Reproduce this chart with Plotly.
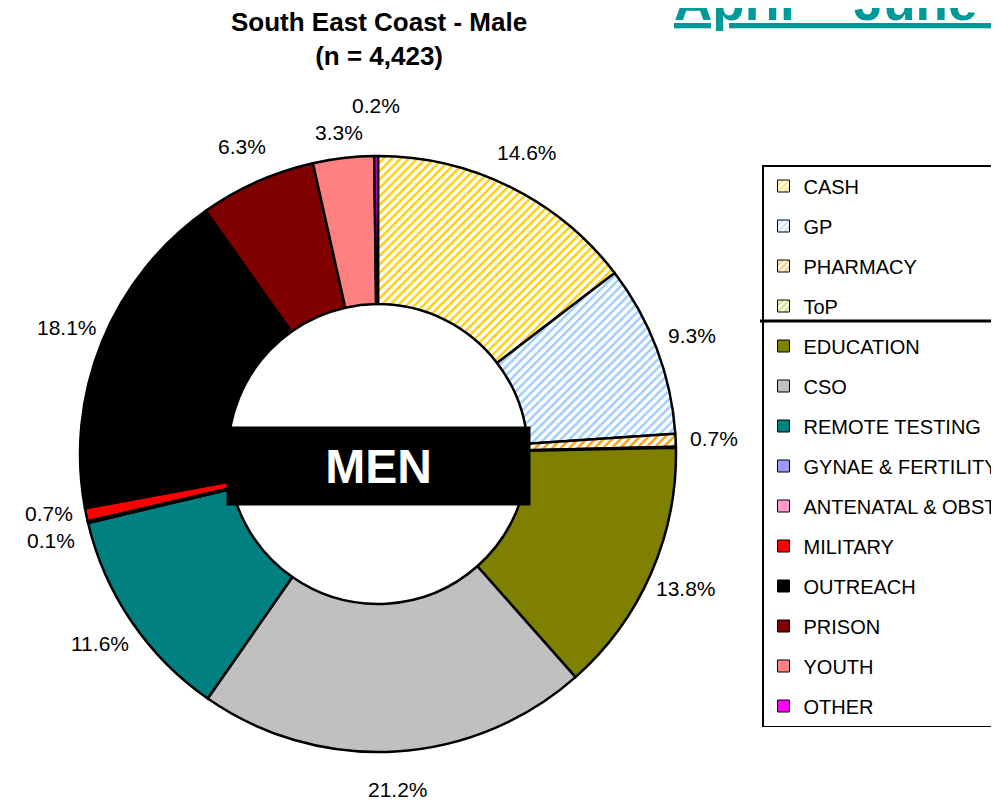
import math
import plotly.graph_objects as go

categories = ["CASH", "GP", "PHARMACY", "ToP", "EDUCATION", "CSO", "REMOTE TESTING",
              "GYNAE & FERTILITY", "ANTENATAL & OBSTETRICS", "MILITARY", "OUTREACH",
              "PRISON", "YOUTH", "OTHER"]
values = [14.6, 9.3, 0.7, 0.05, 13.8, 21.2, 11.6, 0.1, 0.0, 0.7, 18.1, 6.3, 3.3, 0.2]
value_labels = ["14.6%", "9.3%", "0.7%", "", "13.8%", "21.2%", "11.6%", "0.1%", "",
                "0.7%", "18.1%", "6.3%", "3.3%", "0.2%"]
colors = ["#FFCC00", "#99CCFF", "#FF9900", "#99CC00", "#808000", "#C0C0C0", "#008080",
          "#9999FF", "#FF99CC", "#FF0000", "#000000", "#800000", "#FF8080", "#FF00FF"]
hatched = [True, True, True, True, False, False, False, False, False, False, False,
           False, False, False]

W, H = 999, 804
OFF = 8  # page body margin


def fx(px):
    return (px - OFF) / W


def fy(py):
    return 1 - (py - OFF) / H


cx, cy, R = 378, 454, 298
LABEL_R = 336

pat_shapes = ["/" if h else "" for h in hatched]
pie_colors = ["white" if h else c for h, c in zip(hatched, colors)]

fig = go.Figure()
fig.add_trace(go.Pie(
    labels=categories, values=values, textinfo="none",
    sort=False, direction="clockwise", rotation=0,
    hole=0.503, showlegend=False, hoverinfo="label+percent",
    marker=dict(colors=pie_colors, line=dict(color="black", width=2.5),
                pattern=dict(shape=pat_shapes, fgcolor=colors, bgcolor=pie_colors,
                             size=6, solidity=0.4)),
    domain=dict(x=[fx(cx - R), fx(cx + R)], y=[fy(cy + R), fy(cy - R)]),
))

# legend entries
for name, col, h in zip(categories, colors, hatched):
    fig.add_trace(go.Bar(
        x=[None], y=[None], name=name, legendgroup=name, showlegend=True,
        marker=dict(color="white" if h else col, line=dict(color="black", width=1),
                    pattern=dict(shape="/" if h else "", fgcolor=col,
                                 bgcolor="white" if h else col, size=6, solidity=0.5)),
    ))

# outside value labels placed at each slice's mid-angle (derived from the values)
total = sum(values)
pos = []
cum = 0.0
for v, t in zip(values, value_labels):
    mid = (cum + v / 2) / total * 2 * math.pi
    cum += v
    if not t:
        continue
    pos.append([cx + LABEL_R * math.sin(mid), cy - LABEL_R * math.cos(mid), t])
# simple overlap resolution
for _ in range(20):
    for i in range(len(pos)):
        for j in range(i + 1, len(pos)):
            a, b = pos[i], pos[j]
            if abs(a[0] - b[0]) < 55 and abs(a[1] - b[1]) < 27:
                push = (27 - abs(a[1] - b[1])) / 2
                if a[1] <= b[1]:
                    a[1] -= push
                    b[1] += push
                else:
                    a[1] += push
                    b[1] -= push

annotations = [
    dict(text=t, x=fx(px), y=fy(py), xref="paper", yref="paper",
         xanchor="center", yanchor="middle", showarrow=False,
         font=dict(family="Liberation Sans, Arial", size=21, color="black"))
    for px, py, t in pos
]
annotations += [
    dict(text="<b>South East Coast - Male</b><br><b>(n = 4,423)</b>",
         x=fx(378.5), y=fy(5), xref="paper", yref="paper", xanchor="center",
         yanchor="top", showarrow=False,
         font=dict(family="Liberation Sans, Arial", size=26, color="black")),
    dict(text="<b><u>April – June 2008</u></b>", x=fx(672), y=fy(33),
         xref="paper", yref="paper", xanchor="left", yanchor="bottom",
         showarrow=False,
         font=dict(family="Liberation Sans, Arial", size=53, color="#009999")),
    dict(text="<b>MEN</b>", x=fx(378.5), y=fy(466), xref="paper", yref="paper",
         xanchor="center", yanchor="middle", showarrow=False,
         width=303, height=78, bgcolor="black", borderpad=0,
         font=dict(family="Liberation Sans, Arial", size=48, color="white")),
]

fig.update_layout(
    width=W, height=H, margin=dict(l=0, r=0, t=0, b=0, autoexpand=False),
    paper_bgcolor="white", plot_bgcolor="white",
    xaxis=dict(visible=False), yaxis=dict(visible=False),
    showlegend=True,
    legend=dict(x=fx(762), y=fy(165), xanchor="left", yanchor="top",
                traceorder="grouped", tracegroupgap=11,
                bgcolor="rgba(0,0,0,0)", bordercolor="black", borderwidth=1.5,
                font=dict(family="Liberation Sans, Arial", size=20, color="black")),
    font=dict(family="Liberation Sans, Arial"),
    annotations=annotations,
    shapes=[dict(type="line", xref="paper", yref="paper", x0=fx(760), x1=1.0,
                 y0=fy(321), y1=fy(321), line=dict(color="black", width=3))],
)

fig.write_html("out.html")
